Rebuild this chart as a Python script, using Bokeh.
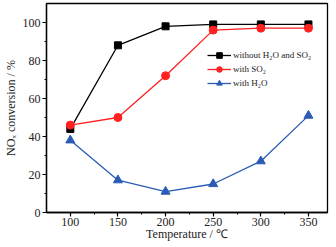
from bokeh.plotting import figure
from bokeh.models import Range1d, Legend, LegendItem, FixedTicker
from bokeh.embed import file_html
from bokeh.resources import INLINE

temps = [100, 150, 200, 250, 300, 350]
without_h2o_so2 = [44, 88, 98, 99, 99, 99]
with_so2 = [46, 50, 72, 96, 97, 97]
with_h2o = [38, 17, 11, 15, 27, 51]
x_ticks = [100, 150, 200, 250, 300, 350]
y_ticks = [0, 20, 40, 60, 80, 100]

FONT = "Liberation Serif"

p = figure(frame_width=281, frame_height=209, output_backend="svg", toolbar_location=None,
           x_range=Range1d(75, 370), y_range=Range1d(0, 110),
           min_border_left=34, min_border_right=3, min_border_top=3, min_border_bottom=10)
p.xgrid.visible = False
p.ygrid.visible = False
p.outline_line_color = "black"
p.outline_line_width = 1.3
p.background_fill_color = "white"
p.border_fill_color = "white"

for ax in (p.xaxis[0], p.yaxis[0]):
    ax.axis_line_width = 1.3
    ax.major_tick_line_width = 1.2
    ax.minor_tick_line_width = 1.0
    ax.major_tick_out = 4
    ax.major_tick_in = 0
    ax.minor_tick_out = 2
    ax.minor_tick_in = 0
    ax.major_label_text_font = FONT
    ax.major_label_text_font_size = "12px"
    ax.major_label_text_color = "#222222"
    ax.axis_label_text_font = FONT
    ax.axis_label_text_font_size = "12px"
    ax.axis_label_text_font_style = "normal"
    ax.axis_label_text_color = "#222222"

p.xaxis[0].ticker = FixedTicker(ticks=x_ticks, minor_ticks=[125, 175, 225, 275, 325])
p.yaxis[0].ticker = FixedTicker(ticks=y_ticks, minor_ticks=[10, 30, 50, 70, 90])
p.xaxis[0].axis_label = "Temperature / ℃"
p.yaxis[0].axis_label = "NOₓ conversion / %"
p.xaxis[0].major_label_standoff = 1
p.xaxis[0].axis_label_standoff = -2
p.yaxis[0].major_label_standoff = 2
p.yaxis[0].axis_label_standoff = 2

l1 = p.line(temps, without_h2o_so2, line_color="black", line_width=1.3)
m1 = p.scatter(temps, without_h2o_so2, marker="square", size=7, fill_color="black", line_color="black")
l2 = p.line(temps, with_so2, line_color="#ff2020", line_width=1.3)
m2 = p.scatter(temps, with_so2, marker="circle", size=8, fill_color="#ff2020", line_color="#ff2020")
l3 = p.line(temps, with_h2o, line_color="#2a5bb5", line_width=1.3)
m3 = p.scatter(temps, with_h2o, marker="triangle", size=9, fill_color="#2a5bb5", line_color="#2a5bb5")

legend = Legend(items=[
    LegendItem(label="without H₂O and SO₂", renderers=[l1, m1]),
    LegendItem(label="with SO₂", renderers=[l2, m2]),
    LegendItem(label="with H₂O", renderers=[l3, m3]),
], location=(161, 122))
legend.border_line_color = None
legend.background_fill_alpha = 0
legend.label_text_font = FONT
legend.label_text_font_size = "9px"
legend.label_text_color = "#222222"
legend.glyph_width = 24
legend.glyph_height = 14
legend.label_height = 14
legend.label_standoff = 2
legend.spacing = 0
legend.padding = 0
legend.margin = 0
p.add_layout(legend, "center")

open("out.html", "w").write(file_html(p, INLINE))
